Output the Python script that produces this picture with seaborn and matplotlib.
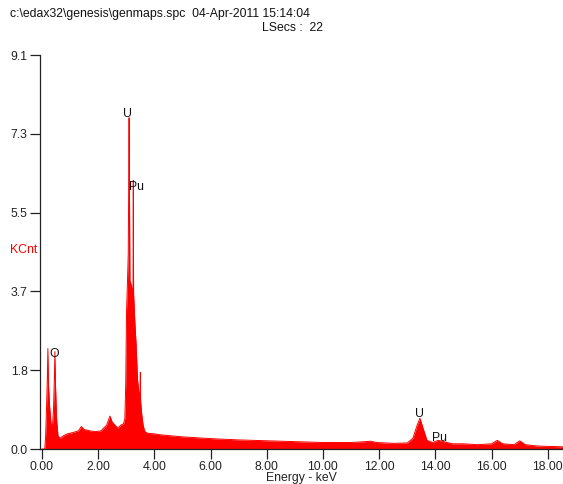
import numpy as np
import pandas as pd
import matplotlib
matplotlib.use("Agg")
import matplotlib.pyplot as plt
import seaborn as sns

# spectrum (keV, KCnt)
energy = [0.00, 0.10, 0.13, 0.16, 0.19, 0.21, 0.23, 0.27, 0.32, 0.37, 0.41, 0.44,
          0.46, 0.48, 0.52, 0.57, 0.65, 0.75, 0.90, 1.10, 1.30, 1.40, 1.50, 1.70,
          1.90, 2.10, 2.30, 2.42, 2.50, 2.60, 2.70, 2.80, 2.90, 2.95, 2.98, 3.01,
          3.04, 3.07, 3.09, 3.10, 3.11, 3.13, 3.17, 3.21, 3.24, 3.25, 3.26, 3.30,
          3.35, 3.40, 3.45, 3.49, 3.50, 3.51, 3.55, 3.60, 3.65, 3.70, 3.80, 4.00,
          4.20, 4.50, 5.00, 5.50, 6.00, 7.00, 8.00, 9.00, 10.00, 11.00, 11.50, 11.70,
          11.90, 12.50, 13.00, 13.20, 13.35, 13.45, 13.55, 13.70, 13.90, 14.10, 14.30,
          14.60, 15.00, 15.50, 16.00, 16.20, 16.40, 16.80, 17.00, 17.20, 17.60, 18.00,
          18.60]
counts = [0.00, 0.00, 0.30, 0.90, 1.60, 2.32, 1.50, 1.00, 0.60, 0.50, 0.90, 1.60,
          2.25, 1.50, 0.70, 0.30, 0.25, 0.30, 0.35, 0.38, 0.42, 0.52, 0.45, 0.42,
          0.40, 0.42, 0.55, 0.76, 0.62, 0.55, 0.48, 0.55, 0.58, 0.70, 1.50, 3.20,
          3.80, 4.50, 6.45, 7.65, 6.40, 3.90, 3.80, 3.70, 3.70, 6.20, 3.60, 3.00,
          2.40, 1.60, 1.30, 1.20, 1.77, 1.10, 0.80, 0.55, 0.42, 0.38, 0.36, 0.35,
          0.33, 0.31, 0.28, 0.26, 0.24, 0.21, 0.19, 0.17, 0.15, 0.15, 0.17, 0.18,
          0.15, 0.13, 0.14, 0.25, 0.55, 0.71, 0.50, 0.20, 0.15, 0.20, 0.17,
          0.12, 0.12, 0.10, 0.12, 0.20, 0.12, 0.10, 0.19, 0.10, 0.07, 0.06,
          0.05]

ytick_vals = [0, 1.82, 3.64, 5.46, 7.28, 9.1]
ytick_labels = ["0.0", "1.8", "3.7", "5.5", "7.3", "9.1"]
xtick_vals = [0, 2, 4, 6, 8, 10, 12, 14, 16, 18]
xtick_labels = ["0.00", "2.00", "4.00", "6.00", "8.00", "10.00", "12.00", "14.00", "16.00", "18.00"]

peak_names = ["U", "Pu", "O", "U", "Pu"]
peak_x = [3.06, 3.38, 0.43, 13.42, 14.16]
peak_y = [7.74, 6.06, 2.19, 0.81, 0.25]

df = pd.DataFrame({"energy": energy, "counts": counts})

sns.set_style("ticks")
plt.rcParams["font.family"] = ["Liberation Sans", "DejaVu Sans"]

fig = plt.figure(figsize=(5.63, 4.84), dpi=100)
ax = fig.add_axes([40 / 563, 1 - 449 / 484, 523 / 563, 394 / 484])

red = "#ff0000"
ax.fill_between(df["energy"], 0, df["counts"], color=red, linewidth=0)
sns.lineplot(data=df, x="energy", y="counts", ax=ax, color=red, linewidth=0.7)

fs = 8.8
ax.set_xlim(-0.07, 18.54)
ax.set_ylim(0, 9.1)
ax.set_yticks(ytick_vals)
ax.set_yticklabels(ytick_labels)
ax.set_xticks(xtick_vals)
ax.set_xticklabels(xtick_labels)
ax.tick_params(axis="both", labelsize=fs, length=7, width=0.9, colors="#222222", pad=2)
ax.set_xlabel("Energy - keV", fontsize=fs, labelpad=-1, color="#222222")
ax.set_ylabel("")
sns.despine(ax=ax)
for s in ["left", "bottom"]:
    ax.spines[s].set_linewidth(0.9)
    ax.spines[s].set_color("#222222")

for name, px, py in zip(peak_names, peak_x, peak_y):
    ax.text(px, py, name, fontsize=fs, ha="center", va="center", color="#111111")

fig.text(10 / 563, 1 - 14 / 484, "c:\\edax32\\genesis\\genmaps.spc  04-Apr-2011 15:14:04",
         fontsize=fs, va="center", ha="left", color="#111111")
fig.text(262 / 563, 1 - 28 / 484, "LSecs :  22", fontsize=fs, va="center", ha="left",
         color="#111111")
fig.text(10 / 563, 1 - 250 / 484, "KCnt", fontsize=fs, va="center", ha="left", color=red)

fig.savefig("out.png", dpi=100)
